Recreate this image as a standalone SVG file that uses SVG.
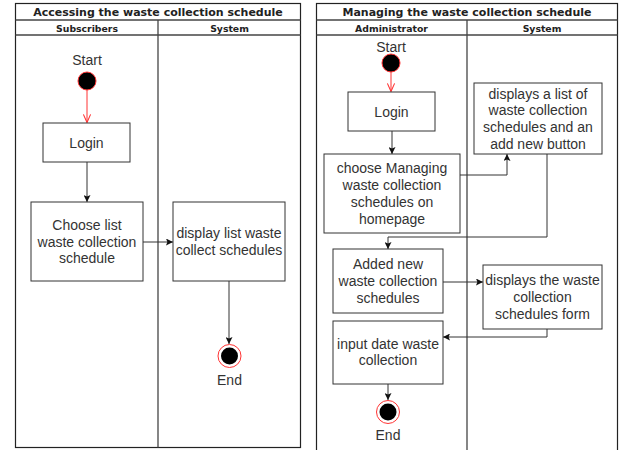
<svg xmlns="http://www.w3.org/2000/svg" width="620" height="450" viewBox="0 0 620 450">
<defs>
<style>
.pool{fill:#fff;stroke:#222;stroke-width:1.2}
.lane{stroke:#444;stroke-width:1.3;fill:none}
.title{font-family:"DejaVu Sans",sans-serif;font-weight:bold;font-size:11px;fill:#222;text-anchor:middle}
.hdr{font-family:"DejaVu Sans",sans-serif;font-weight:bold;font-size:9.3px;fill:#222;text-anchor:middle}
.box{fill:#fff;stroke:#333;stroke-width:1}
.t{font-family:"Liberation Sans",Arial,sans-serif;font-size:14px;fill:#333;text-anchor:middle}
.e{fill:none;stroke:#333;stroke-width:1}
.r{fill:none;stroke:#ff3333;stroke-width:1}
</style>
<marker id="ah" viewBox="0 0 10 10" refX="10" refY="5" markerWidth="7" markerHeight="7" markerUnits="userSpaceOnUse" orient="auto">
<path d="M0,0 L10,5 L0,10 L2,5 Z" fill="#111"/>
</marker>
<marker id="ar" viewBox="0 0 10 10" refX="10" refY="5" markerWidth="9" markerHeight="9" markerUnits="userSpaceOnUse" orient="auto">
<path d="M1,1 L10,5 L1,9" fill="none" stroke="#ff3333" stroke-width="1.2"/>
</marker>
</defs>
<rect width="620" height="450" fill="#fff"/>

<g id="pool-left">
<rect class="pool" x="15.5" y="3.5" width="285" height="444"/>
<line class="lane" x1="15.5" y1="20" x2="300.5" y2="20"/>
<line class="lane" x1="15.5" y1="35" x2="300.5" y2="35"/>
<line class="lane" x1="158" y1="20" x2="158" y2="447.5"/>
<text class="title" x="158" y="16">Accessing the waste collection schedule</text>
<text class="hdr" x="87" y="31.5">Subscribers</text>
<text class="hdr" x="229.5" y="31.5">System</text>
</g>

<g id="pool-right">
<rect class="pool" x="316.5" y="3.5" width="301" height="460"/>
<line class="lane" x1="316.5" y1="20" x2="617.5" y2="20"/>
<line class="lane" x1="316.5" y1="35" x2="617.5" y2="35"/>
<line class="lane" x1="467" y1="20" x2="467" y2="460"/>
<text class="title" x="467" y="16">Managing the waste collection schedule</text>
<text class="hdr" x="391.5" y="31.5">Administrator</text>
<text class="hdr" x="542" y="31.5">System</text>
</g>

<g id="connectors">
<line class="r" x1="87" y1="90" x2="87" y2="122.5" marker-end="url(#ar)"/>
<line class="e" x1="87" y1="162" x2="87" y2="202" marker-end="url(#ah)"/>
<line class="e" x1="143" y1="242" x2="173" y2="242" marker-end="url(#ah)"/>
<line class="e" x1="229" y1="281" x2="229" y2="344" marker-end="url(#ah)"/>
<line class="r" x1="391" y1="72" x2="391" y2="91.5" marker-end="url(#ar)"/>
<line class="e" x1="392" y1="131" x2="392" y2="154" marker-end="url(#ah)"/>
<polyline class="e" points="460,175 507,175 507,154" marker-end="url(#ah)"/>
<polyline class="e" points="547,154 547,237 388,237 388,249" marker-end="url(#ah)"/>
<line class="e" x1="443" y1="282" x2="483" y2="282" marker-end="url(#ah)"/>
<polyline class="e" points="547,329 547,337 443,337" marker-end="url(#ah)"/>
<line class="e" x1="388" y1="384" x2="388" y2="400" marker-end="url(#ah)"/>
</g>

<g id="start-left">
<text class="t" x="87" y="65">Start</text>
<circle cx="87" cy="81" r="9" fill="#000" stroke="#ff3333" stroke-width="1"/>
</g>
<g id="login-left">
<rect class="box" x="43" y="123" width="87" height="39"/>
<text class="t" x="86.5" y="147.5">Login</text>
</g>
<g id="choose-left">
<rect class="box" x="31" y="202" width="112" height="79"/>
<text class="t" x="87" y="229.7">Choose list</text>
<text class="t" x="87" y="246.5">waste collection</text>
<text class="t" x="87" y="263.3">schedule</text>
</g>
<g id="display-left">
<rect class="box" x="173" y="202" width="112" height="79"/>
<text class="t" x="229" y="238.1">display list waste</text>
<text class="t" x="229" y="254.9">collect schedules</text>
</g>
<g id="end-left">
<circle cx="229.5" cy="356" r="11.5" fill="#fff" stroke="#ff3333" stroke-width="1"/>
<circle cx="229.5" cy="356" r="8.5" fill="#000"/>
<text class="t" x="229.5" y="385">End</text>
</g>

<g id="start-right">
<text class="t" x="391" y="52">Start</text>
<circle cx="391" cy="63" r="9" fill="#000" stroke="#ff3333" stroke-width="1"/>
</g>
<g id="login-right">
<rect class="box" x="348" y="92" width="87" height="39"/>
<text class="t" x="391.5" y="116.5">Login</text>
</g>
<g id="displaylist-right">
<rect class="box" x="474" y="83" width="128" height="71"/>
<text class="t" x="538" y="98.5">displays a list of</text>
<text class="t" x="538" y="115.3">waste collection</text>
<text class="t" x="538" y="132.1">schedules and an</text>
<text class="t" x="538" y="148.9">add new button</text>
</g>
<g id="choose-right">
<rect class="box" x="324" y="154" width="136" height="79"/>
<text class="t" x="392" y="173.3">choose Managing</text>
<text class="t" x="392" y="190.1">waste collection</text>
<text class="t" x="392" y="206.9">schedules on</text>
<text class="t" x="392" y="223.7">homepage</text>
</g>
<g id="added-right">
<rect class="box" x="333" y="249" width="110" height="64"/>
<text class="t" x="388" y="269.2">Added new</text>
<text class="t" x="388" y="286">waste collection</text>
<text class="t" x="388" y="302.8">schedules</text>
</g>
<g id="form-right">
<rect class="box" x="483" y="265" width="119" height="64"/>
<text class="t" x="542.5" y="285.2">displays the waste</text>
<text class="t" x="542.5" y="302">collection</text>
<text class="t" x="542.5" y="318.8">schedules form</text>
</g>
<g id="input-right">
<rect class="box" x="333" y="321" width="110" height="63"/>
<text class="t" x="388" y="348.5">input date waste</text>
<text class="t" x="388" y="365.3">collection</text>
</g>
<g id="end-right">
<circle cx="388" cy="412" r="11.5" fill="#fff" stroke="#ff3333" stroke-width="1"/>
<circle cx="388" cy="412" r="8.5" fill="#000"/>
<text class="t" x="388" y="440">End</text>
</g>
</svg>
